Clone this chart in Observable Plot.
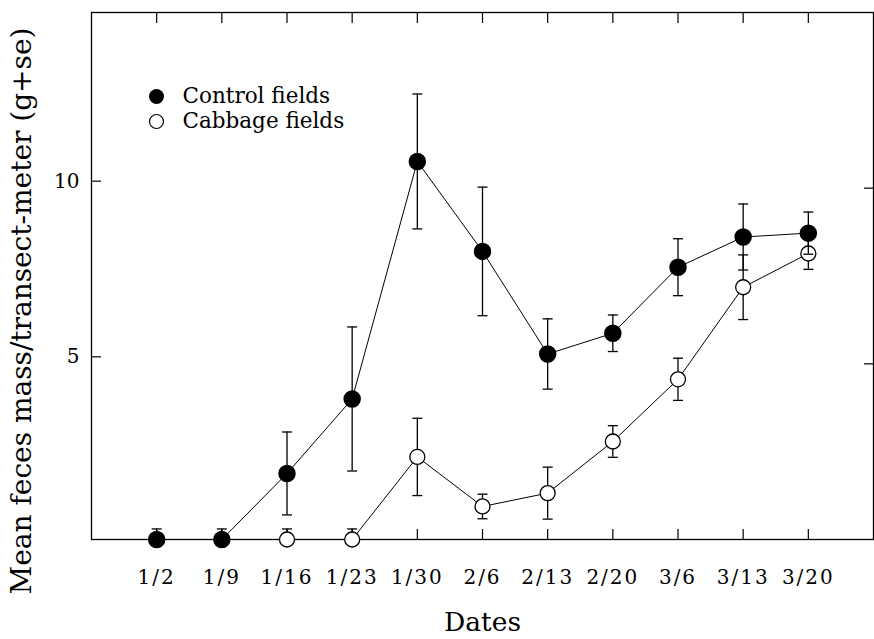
<!DOCTYPE html>
<html><head><meta charset="utf-8">
<script src="https://cdn.jsdelivr.net/npm/d3@7"></script>
<script src="https://cdn.jsdelivr.net/npm/@observablehq/plot@0.6"></script>
<style>
body{margin:0;background:#fff}
#chart{width:874px;height:639px}
g[aria-label="x-axis tick label"] text{letter-spacing:2px}
</style>
</head><body><div id="chart"></div>
<script>
const dates = ["1/2","1/9","1/16","1/23","1/30","2/6","2/13","2/20","3/6","3/13","3/20"];
const controlMean = [0, 0, 1.88, 4.0, 10.76, 8.20, 5.28, 5.87, 7.75, 8.61, 8.72];
const controlSe   = [0.3, 0.3, 1.18, 2.05, 1.92, 1.83, 1.0, 0.52, 0.81, 0.94, 0.6];
const cabbageMean = [null, null, 0, 0, 2.35, 0.94, 1.32, 2.79, 4.56, 7.18, 8.14];
const cabbageSe   = [null, null, 0.3, 0.3, 1.1, 0.35, 0.74, 0.45, 0.6, 0.92, 0.45];
const seriesNames = ["Control fields", "Cabbage fields"];
const yTicks = [5, 10];
const xTitle = "Dates";
const yTitle = "Mean feces mass/transect-meter (g+se)";

const xTicks = dates.map((d, i) => i + 1);
const rows = (means, ses, series) => dates.map((d, i) => ({
  i: i + 1, date: d, series, mean: means[i],
  lo: means[i] == null ? null : Math.max(0, means[i] - ses[i]),
  hi: means[i] == null ? null : means[i] + ses[i]
}));
const control = rows(controlMean, controlSe, seriesNames[0]);
const cabbage = rows(cabbageMean, cabbageSe, seriesNames[1]);
const cabDef = cabbage.filter(d => d.mean != null);

const capSymbol = {draw(ctx, size){ const w = Math.sqrt(size / Math.PI); ctx.moveTo(-w, 0); ctx.lineTo(w, 0); }};

const errMarks = (data) => [
  Plot.ruleX(data, {x: "i", y1: "lo", y2: "hi", stroke: "black", strokeWidth: 1.3}),
  Plot.dot(data, {x: "i", y: "hi", symbol: capSymbol, r: 5, stroke: "black", strokeWidth: 1.3, fill: "none"}),
  Plot.dot(data.filter(d => d.lo > 0), {x: "i", y: "lo", symbol: capSymbol, r: 5, stroke: "black", strokeWidth: 1.3, fill: "none"})
];

const chart = Plot.plot({
  width: 874, height: 639,
  marginLeft: 91, marginRight: 1, marginTop: 12, marginBottom: 100,
  style: {fontFamily: "DejaVu Serif", fontSize: "20px", color: "black", background: "white", overflow: "visible"},
  x: {domain: [0, 12]},
  y: {domain: [0, 15]},
  marks: [
    Plot.axisX({anchor: "bottom", ticks: xTicks, tickSize: -10, tickPadding: 40, tickFormat: i => dates[i - 1], fontSize: 20, label: null, strokeWidth: 1.2}),
    Plot.axisX({anchor: "top", ticks: xTicks, tickSize: -10, fill: "none", label: null, strokeWidth: 1.2}),
    Plot.axisY({anchor: "left", ticks: yTicks, tickSize: -10, tickPadding: 22, tickFormat: d => String(d), fontSize: 20, dy: -7, label: null, strokeWidth: 1.2}),
    Plot.axisY({anchor: "right", ticks: yTicks, tickSize: -10, fill: "none", label: null, strokeWidth: 1.2}),
    Plot.frame({stroke: "black", strokeWidth: 1.3}),
    // cabbage series
    Plot.line(cabDef, {x: "i", y: "mean", stroke: "black", strokeWidth: 1}),
    ...errMarks(cabDef),
    Plot.dot(cabDef, {x: "i", y: "mean", r: 7.5, fill: "white", stroke: "black", strokeWidth: 1.3}),
    // control series
    Plot.line(control, {x: "i", y: "mean", stroke: "black", strokeWidth: 1}),
    ...errMarks(control),
    Plot.dot(control, {x: "i", y: "mean", r: 8, fill: "black", stroke: "black"}),
    // legend
    Plot.dot([seriesNames[0]], {frameAnchor: "top-left", dx: 65, dy: 84, r: 7.5, fill: "black"}),
    Plot.dot([seriesNames[1]], {frameAnchor: "top-left", dx: 65, dy: 109, r: 7, fill: "white", stroke: "black", strokeWidth: 1.2}),
    Plot.text([seriesNames[0]], {frameAnchor: "top-left", dx: 91, dy: 84, text: d => d, textAnchor: "start", lineAnchor: "middle", fontSize: 21.5}),
    Plot.text([seriesNames[1]], {frameAnchor: "top-left", dx: 91, dy: 109, text: d => d, textAnchor: "start", lineAnchor: "middle", fontSize: 21.5}),
    // axis titles
    Plot.text([xTitle], {frameAnchor: "bottom", dy: 83, text: d => d, textAnchor: "middle", lineAnchor: "middle", fontSize: 26.5}),
    Plot.text([yTitle], {frameAnchor: "left", dx: -69, dy: 35, rotate: -90, text: d => d, textAnchor: "middle", lineAnchor: "middle", fontSize: 28})
  ]
});
document.getElementById("chart").appendChild(chart);
</script>
</body></html>
